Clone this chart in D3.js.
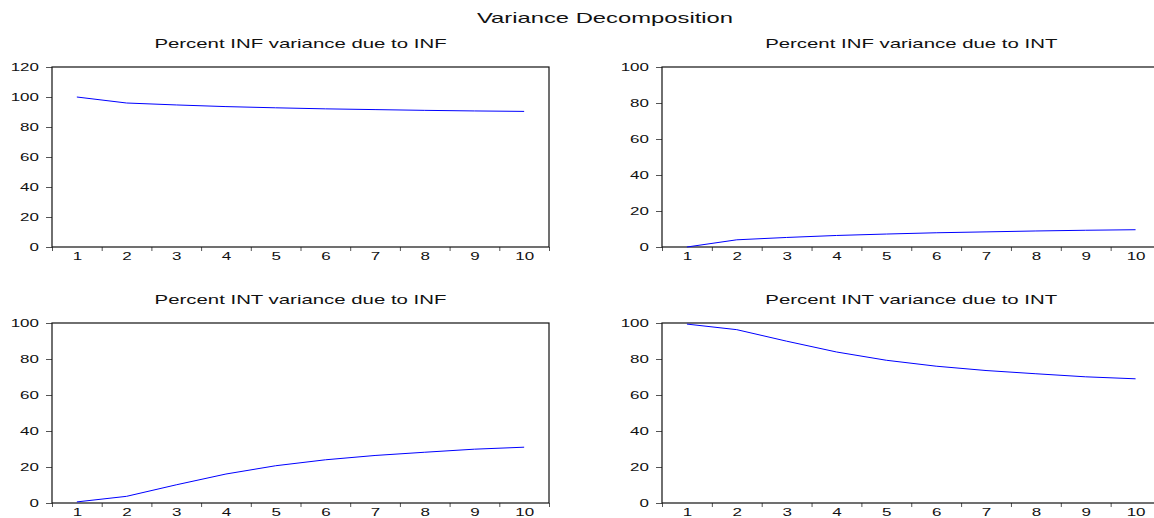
<!DOCTYPE html>
<html>
<head>
<meta charset="utf-8">
<script src="https://cdn.jsdelivr.net/npm/d3@7"></script>
<style>
  html, body { margin: 0; padding: 0; background: #fff; }
  svg { display: block; font-family: "Liberation Sans", Arial, sans-serif; }
</style>
</head>
<body>
<svg id="chart" width="1154" height="518"></svg>
<script>
// ---- data ----
const periods = [1, 2, 3, 4, 5, 6, 7, 8, 9, 10];
const infDueInf = [100, 96.0, 94.7, 93.6, 92.8, 92.1, 91.6, 91.1, 90.7, 90.4];
const infDueInt = [0, 4.0, 5.3, 6.4, 7.2, 7.9, 8.4, 8.9, 9.3, 9.6];
const intDueInf = [0.6, 3.7, 10.1, 16.1, 20.7, 24.0, 26.4, 28.2, 29.9, 31.0];
const intDueInt = [99.4, 96.3, 89.9, 83.9, 79.3, 76.0, 73.6, 71.8, 70.1, 69.0];
const yTicksTopLeft = [0, 20, 40, 60, 80, 100, 120];
const yTicksOther = [0, 20, 40, 60, 80, 100];
const mainTitle = "Variance Decomposition";
const panelTitles = [
  "Percent INF variance due to INF",
  "Percent INF variance due to INT",
  "Percent INT variance due to INF",
  "Percent INT variance due to INT"
];

// ---- layout ----
const SX = 1.7; // horizontal stretch of the text
const panels = [
  { title: panelTitles[0], values: infDueInf, yMax: 120, yTicks: yTicksTopLeft, x0: 52, x1: 549, y0: 67, y1: 247 },
  { title: panelTitles[1], values: infDueInt, yMax: 100, yTicks: yTicksOther, x0: 662, x1: 1160.5, y0: 67, y1: 247 },
  { title: panelTitles[2], values: intDueInf, yMax: 100, yTicks: yTicksOther, x0: 52, x1: 549, y0: 323, y1: 503 },
  { title: panelTitles[3], values: intDueInt, yMax: 100, yTicks: yTicksOther, x0: 662, x1: 1160.5, y0: 323, y1: 503 }
];

const svg = d3.select("#chart");

svg.append("text")
  .attr("transform", `translate(605,23) scale(${SX},1)`)
  .attr("text-anchor", "middle")
  .attr("font-size", 14)
  .attr("fill", "#111")
  .text(mainTitle);

panels.forEach(p => {
  const g = svg.append("g");
  const x = d3.scaleLinear().domain([0.5, 10.5]).range([p.x0, p.x1]);
  const y = d3.scaleLinear().domain([0, p.yMax]).range([p.y1, p.y0]);

  // title
  g.append("text")
    .attr("transform", `translate(${(p.x0 + p.x1) / 2},${p.y0 - 19}) scale(${SX},1)`)
    .attr("text-anchor", "middle")
    .attr("font-size", 12)
    .attr("fill", "#111")
    .text(p.title);

  // y axis
  const ya = g.append("g")
    .attr("transform", `translate(${p.x0},0)`)
    .call(d3.axisLeft(y).tickValues(p.yTicks).tickSize(6).tickPadding(6).tickFormat(d3.format("d")));
  ya.select(".domain").remove();
  ya.selectAll(".tick line").attr("stroke", "#555");
  ya.selectAll(".tick text")
    .attr("x", 0)
    .attr("transform", `translate(-13,0) scale(${SX},1)`)
    .attr("font-size", 10)
    .attr("font-family", "Liberation Sans, Arial, sans-serif")
    .attr("fill", "#111");

  // x tick marks at band boundaries
  const boundaries = d3.range(0.5, 11, 1);
  const xm = g.append("g")
    .attr("transform", `translate(0,${p.y1})`)
    .call(d3.axisBottom(x).tickValues(boundaries).tickSize(4).tickFormat(""));
  xm.select(".domain").remove();
  xm.selectAll(".tick line").attr("stroke", "#555");

  // x labels
  const xl = g.append("g")
    .attr("transform", `translate(0,${p.y1})`)
    .call(d3.axisBottom(x).tickValues(periods).tickSize(0).tickPadding(6).tickFormat(d3.format("d")));
  xl.select(".domain").remove();
  xl.selectAll(".tick text")
    .attr("transform", `scale(${SX},1)`)
    .attr("font-size", 10)
    .attr("font-family", "Liberation Sans, Arial, sans-serif")
    .attr("fill", "#111");

  // frame
  g.append("rect")
    .attr("x", p.x0).attr("y", p.y0)
    .attr("width", p.x1 - p.x0).attr("height", p.y1 - p.y0)
    .attr("fill", "none").attr("stroke", "#111").attr("stroke-width", 1.2);

  // data line
  const line = d3.line().x((d, i) => x(periods[i])).y(d => y(d));
  g.append("path")
    .datum(p.values)
    .attr("d", line)
    .attr("fill", "none")
    .attr("stroke", "#0000ff")
    .attr("stroke-width", 1);
});
</script>
</body>
</html>
